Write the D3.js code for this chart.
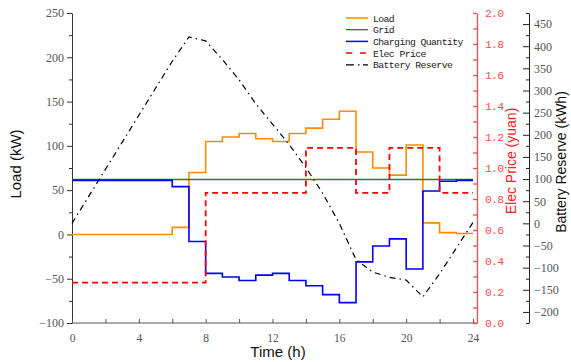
<!DOCTYPE html>
<html><head><meta charset="utf-8">
<script src="https://cdn.jsdelivr.net/npm/d3@7/dist/d3.min.js"></script>
<style>
body{margin:0;background:#fff}
svg{display:block}
.ax text{font-family:"Liberation Serif",serif;font-size:12px;fill:#555}
.ax.bot text{font-size:11.5px}
.ax.red text{font-family:"Liberation Mono",monospace;font-size:11.5px;letter-spacing:-0.8px;fill:#ff4d4d}
.ttl{font-family:"Liberation Sans",Arial,sans-serif}
.leg text{font-family:"Liberation Mono",monospace;font-size:9.8px;letter-spacing:-0.6px;fill:#222}
</style></head><body>
<script>
// hourly values, t = 0..23 (step after), battery is sampled at t = 0..24
var hours = d3.range(0, 25)
var load     = [0,0,0,0,0,0,8,70,105,110,114,108,105,114,120,130,139,93,75,67,101,13,2,1]
var grid     = [62,62,62,62,62,62,62,62,62,62,62,62,62,62,62,62,62,62,62,62,62,62,62,62]
var charging = [61,61,61,61,61,61,54,-8,-44,-48,-52,-46,-44,-52,-58,-68,-77,-31,-13,-5,-39,49,60,61]
var price    = [0.26,0.26,0.26,0.26,0.26,0.26,0.26,0.26,0.84,0.84,0.84,0.84,0.84,0.84,1.13,1.13,1.13,0.84,0.84,1.13,1.13,1.13,0.84,0.84]
var battery  = [0,61,122,183,244,305,366,421,412,370,324,270,224,178,126,68,0,-82,-110,-122,-128,-166,-114,-56,2]

var xTicks = [0,4,8,12,16,20,24]
var loadTicks = [-100,-50,0,50,100,150,200,250]
var priceTicks = [0,0.2,0.4,0.6,0.8,1.0,1.2,1.4,1.6,1.8,2.0]
var batTicks = [-200,-150,-100,-50,0,50,100,150,200,250,300,350,400,450]

var W = 571, H = 362
var svg = d3.select("body").append("svg").attr("width", W).attr("height", H)

var x = d3.scaleLinear().domain([0, 24]).range([72, 473])
var yL = d3.scaleLinear().domain([-100, 250]).range([323, 13])
var yP = d3.scaleLinear().domain([0, 2]).range([323, 13])
var yB = d3.scaleLinear().domain([-225, 475]).range([323, 13])

function stepPts(v) {
  var p = v.map(function(d, i) { return [i, d] })
  p.push([24, v[v.length - 1]])
  return p
}

// axes
var gL = svg.append("g").attr("class", "ax").attr("transform", "translate(72,0)")
gL.call(d3.axisLeft(yL).tickValues(loadTicks).tickSize(5).tickSizeOuter(0).tickPadding(3))
gL.append("g").call(d3.axisLeft(yL).tickValues(d3.range(-75, 250, 50)).tickSize(3).tickFormat(""))
  .select(".domain").remove()
gL.selectAll("path,line").attr("stroke", "#333")

var gX = svg.append("g").attr("class", "ax bot").attr("transform", "translate(0,323)")
gX.call(d3.axisBottom(x).tickValues(xTicks).tickSize(-4).tickSizeOuter(0).tickPadding(11))
gX.append("g").call(d3.axisBottom(x).tickValues(d3.range(2, 24, 4)).tickSize(-4).tickFormat(""))
  .select(".domain").remove()
gX.select(".domain").attr("d", "M72,0H477")
gX.selectAll("path,line").attr("stroke", "#555")

var gP = svg.append("g").attr("class", "ax red").attr("transform", "translate(477,0)")
gP.call(d3.axisRight(yP).tickValues(priceTicks).tickSize(-4).tickSizeOuter(0).tickPadding(8).tickFormat(d3.format(".1f")))
gP.append("g").call(d3.axisRight(yP).tickValues(d3.range(0.1, 2, 0.2)).tickSize(-4).tickFormat(""))
  .select(".domain").remove()
gP.selectAll("path,line").attr("stroke", "#ff4d4d").attr("stroke-width", 1.3)

var gB = svg.append("g").attr("class", "ax").attr("transform", "translate(529,0)")
gB.call(d3.axisRight(yB).tickValues(batTicks).tickSize(-6).tickSizeOuter(0).tickPadding(5))
gB.append("g").call(d3.axisRight(yB).tickValues(d3.range(-225, 476, 50)).tickSize(-3).tickFormat(""))
  .select(".domain").remove()
gB.selectAll("path,line").attr("stroke", "#222")

// axis titles
svg.append("text").attr("class", "ttl").attr("transform", "translate(21,164) rotate(-90)")
  .attr("text-anchor", "middle").attr("font-size", 15).attr("fill", "#111").text("Load (kW)")
svg.append("text").attr("class", "ttl").attr("x", 278).attr("y", 357)
  .attr("text-anchor", "middle").attr("font-size", 15).attr("fill", "#111").text("Time (h)")
svg.append("text").attr("class", "ttl").attr("transform", "translate(516,161) rotate(-90)")
  .attr("text-anchor", "middle").attr("font-size", 14).attr("fill", "#ff2020").text("Elec Price (yuan)")
svg.append("text").attr("class", "ttl").attr("transform", "translate(566,162) rotate(-90)")
  .attr("text-anchor", "middle").attr("font-size", 14).attr("fill", "#111").text("Battery Reserve (kWh)")

// series
var stepL = d3.line().x(function(d) { return x(d[0]) }).y(function(d) { return yL(d[1]) }).curve(d3.curveStepAfter)
var stepP = d3.line().x(function(d) { return x(d[0]) }).y(function(d) { return yP(d[1]) }).curve(d3.curveStepAfter)
var lineB = d3.line().x(function(d, i) { return x(hours[i]) }).y(function(d) { return yB(d) })

var series = [
  {name: "Load", color: "#ff8c00", w: 1.6, dash: null, leg: null, d: stepL(stepPts(load))},
  {name: "Grid", color: "#118811", w: 1.3, dash: null, leg: null, d: stepL(stepPts(grid))},
  {name: "Charging Quantity", color: "#0000ff", w: 1.6, dash: null, leg: null, d: stepL(stepPts(charging))},
  {name: "Elec Price", color: "#ff0000", w: 1.8, dash: "6,4", leg: "6,8", d: stepP(stepPts(price))},
  {name: "Battery Reserve", color: "#000", w: 1.2, dash: "6,4,1.5,4", leg: "8,4,1.5,3.5", d: lineB(battery)}
]

svg.append("g").selectAll("path").data(series).enter().append("path")
  .attr("d", function(s) { return s.d })
  .attr("fill", "none")
  .attr("stroke", function(s) { return s.color })
  .attr("stroke-width", function(s) { return s.w })
  .attr("stroke-dasharray", function(s) { return s.dash })

// legend
var leg = svg.append("g").attr("class", "leg").attr("transform", "translate(346,18)")
var row = leg.selectAll("g").data(series).enter().append("g")
  .attr("transform", function(s, i) { return "translate(0," + (i * 11.7) + ")" })
row.append("line").attr("x1", 0).attr("x2", 22).attr("y1", 0).attr("y2", 0)
  .attr("stroke", function(s) { return s.color })
  .attr("stroke-width", function(s) { return Math.min(s.w, 1.5) })
  .attr("stroke-dasharray", function(s) { return s.leg })
row.append("text").attr("x", 27).attr("y", 3.5).text(function(s) { return s.name })
</script>
</body></html>
